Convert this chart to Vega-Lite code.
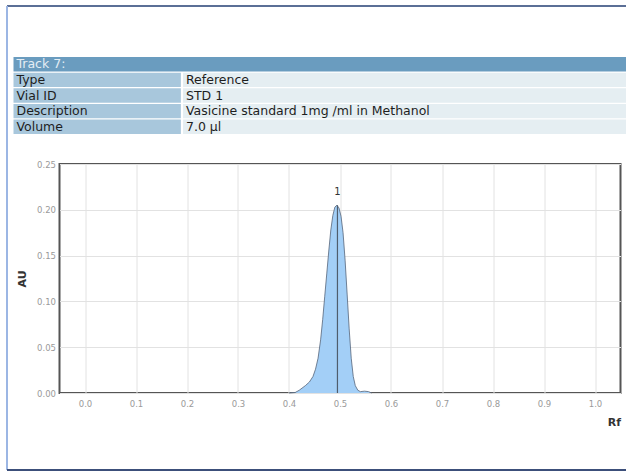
{
  "$schema": "https://vega.github.io/schema/vega-lite/v6.json",
  "padding": {"left": 5.5, "top": 5, "right": 0, "bottom": 0},
  "background": "white",
  "bounds": "flush",
  "spacing": 30,
  "config": {"font": "DejaVu Sans"},
  "vconcat": [
    {
      "width": 561,
      "height": 77,
      "view": {"stroke": null},
      "data": {"values": [
        {"row": "Track 7:", "label": "Track 7:", "value": "", "kind": "header"},
        {"row": "Type", "label": "Type", "value": "Reference", "kind": "row"},
        {"row": "Vial ID", "label": "Vial ID", "value": "STD 1", "kind": "row"},
        {"row": "Description", "label": "Description", "value": "Vasicine standard 1mg /ml in Methanol", "kind": "row"},
        {"row": "Volume", "label": "Volume", "value": "7.0 µl", "kind": "row"}
      ]},
      "resolve": {"scale": {"y": "independent"}},
      "layer": [
        {
          "layer": [
            {
              "transform": [{"filter": "datum.kind === 'header'"}],
              "mark": {"type": "rect", "color": "#6a9cbf"},
              "encoding": {
                "x": {"datum": 0, "type": "quantitative", "scale": {"domain": [0.075041, 0.990212], "nice": false, "zero": false}, "axis": null},
                "x2": {"datum": 1}
              }
            },
            {
              "transform": [{"filter": "datum.kind === 'row'"}],
              "mark": {"type": "rect", "color": "#a8c7dc"},
              "encoding": {
                "x": {"datum": 0, "type": "quantitative"},
                "x2": {"datum": 0.273}
              }
            },
            {
              "transform": [{"filter": "datum.kind === 'row'"}],
              "mark": {"type": "rect", "color": "#e5eef2"},
              "encoding": {
                "x": {"datum": 0.2765, "type": "quantitative"},
                "x2": {"datum": 1}
              }
            },
            {
              "mark": {"type": "text", "align": "left", "baseline": "middle", "dx": 3, "fontSize": 12.5, "font": "DejaVu Sans"},
              "encoding": {
                "x": {"datum": 0, "type": "quantitative"},
                "text": {"field": "label"},
                "color": {"condition": {"test": "datum.kind === 'header'", "value": "#e4edf4"}, "value": "#1e1e1e"}
              }
            },
            {
              "mark": {"type": "text", "align": "left", "baseline": "middle", "dx": 3, "fontSize": 12.5, "font": "DejaVu Sans", "color": "#1e1e1e"},
              "encoding": {
                "x": {"datum": 0.2765, "type": "quantitative"},
                "text": {"field": "value"}
              }
            }
          ],
          "encoding": {
            "y": {"field": "row", "type": "nominal", "sort": null, "axis": null,
                  "scale": {"domain": ["Track 7:", "Type", "Vial ID", "Description", "Volume"], "paddingInner": 0.08, "paddingOuter": 0}}
          }
        },
        {
          "layer": [
            {
              "mark": {"type": "rule", "color": "#5b6f96", "strokeWidth": 2},
              "encoding": {
                "x": {"datum": -0.0106, "type": "quantitative"},
                "x2": {"datum": 1},
                "y": {"datum": 1, "type": "quantitative", "scale": {"domain": [0.72414, 0.89009], "nice": false, "zero": false}, "axis": null}
              }
            },
            {
              "mark": {"type": "rule", "color": "#9cb6e4", "strokeWidth": 2},
              "encoding": {
                "x": {"datum": -0.0106, "type": "quantitative"},
                "y": {"datum": 0, "type": "quantitative"},
                "y2": {"datum": 1}
              }
            },
            {
              "mark": {"type": "rule", "color": "#3c4f7a", "strokeWidth": 2},
              "encoding": {
                "x": {"datum": -0.0106, "type": "quantitative"},
                "x2": {"datum": 1},
                "y": {"datum": 0, "type": "quantitative"}
              }
            }
          ]
        }
      ]
    },
    {
      "width": 561,
      "height": 229,
      "view": {"stroke": "#555555", "strokeWidth": 2},
      "layer": [
        {
          "data": {"values": [
            {"rf": 0.400, "au": 0.0},
            {"rf": 0.412, "au": 0.0005},
            {"rf": 0.420, "au": 0.003},
            {"rf": 0.432, "au": 0.008},
            {"rf": 0.440, "au": 0.012},
            {"rf": 0.447, "au": 0.018},
            {"rf": 0.452, "au": 0.026},
            {"rf": 0.457, "au": 0.038},
            {"rf": 0.462, "au": 0.058},
            {"rf": 0.466, "au": 0.080},
            {"rf": 0.470, "au": 0.105},
            {"rf": 0.474, "au": 0.130},
            {"rf": 0.478, "au": 0.155},
            {"rf": 0.482, "au": 0.178},
            {"rf": 0.486, "au": 0.194},
            {"rf": 0.490, "au": 0.203},
            {"rf": 0.494, "au": 0.205},
            {"rf": 0.498, "au": 0.202},
            {"rf": 0.502, "au": 0.193},
            {"rf": 0.506, "au": 0.175},
            {"rf": 0.510, "au": 0.145},
            {"rf": 0.514, "au": 0.108},
            {"rf": 0.518, "au": 0.070},
            {"rf": 0.522, "au": 0.038},
            {"rf": 0.526, "au": 0.018},
            {"rf": 0.530, "au": 0.008},
            {"rf": 0.535, "au": 0.003},
            {"rf": 0.540, "au": 0.0015},
            {"rf": 0.548, "au": 0.002},
            {"rf": 0.556, "au": 0.0015},
            {"rf": 0.562, "au": 0.0}
          ]},
          "mark": {"type": "area", "color": "#a3cff7", "opacity": 1, "line": {"color": "#56657a", "strokeWidth": 0.8}},
          "encoding": {
            "x": {"field": "rf", "type": "quantitative",
                  "scale": {"domain": [-0.05, 1.05], "nice": false, "zero": false},
                  "axis": {"values": [0, 0.1, 0.2, 0.3, 0.4, 0.5, 0.6, 0.7, 0.8, 0.9, 1.0], "format": ".1f",
                           "grid": true, "gridColor": "#e2e2e2", "ticks": false, "domain": false,
                           "labelColor": "#9a9a9a", "labelFontSize": 8.5, "labelPadding": 6,
                           "title": "Rf", "titleAnchor": "end", "titleFontSize": 11, "titleFontWeight": "bold",
                           "titleColor": "#333333", "titlePadding": 9}},
            "y": {"field": "au", "type": "quantitative",
                  "scale": {"domain": [0, 0.25], "nice": false},
                  "axis": {"values": [0, 0.05, 0.1, 0.15, 0.2, 0.25], "format": ".2f",
                           "grid": true, "gridColor": "#e2e2e2", "ticks": false, "domain": false,
                           "labelColor": "#9a9a9a", "labelFontSize": 8.5, "labelPadding": 4,
                           "title": "AU", "titleFontSize": 11, "titleFontWeight": "bold",
                           "titleColor": "#333333", "titlePadding": 9}}
          }
        },
        {
          "data": {"values": [{"rf": 0.495, "au": 0.205, "label": "1"}]},
          "mark": {"type": "rule", "color": "#4f5d6d", "strokeWidth": 1.2},
          "encoding": {
            "x": {"field": "rf", "type": "quantitative"},
            "y": {"field": "au", "type": "quantitative"},
            "y2": {"datum": 0}
          }
        },
        {
          "data": {"values": [{"rf": 0.495, "au": 0.205, "label": "1"}]},
          "mark": {"type": "text", "dy": -13, "fontSize": 10, "color": "#333333"},
          "encoding": {
            "x": {"field": "rf", "type": "quantitative"},
            "y": {"field": "au", "type": "quantitative"},
            "text": {"field": "label"}
          }
        }
      ]
    }
  ]
}
